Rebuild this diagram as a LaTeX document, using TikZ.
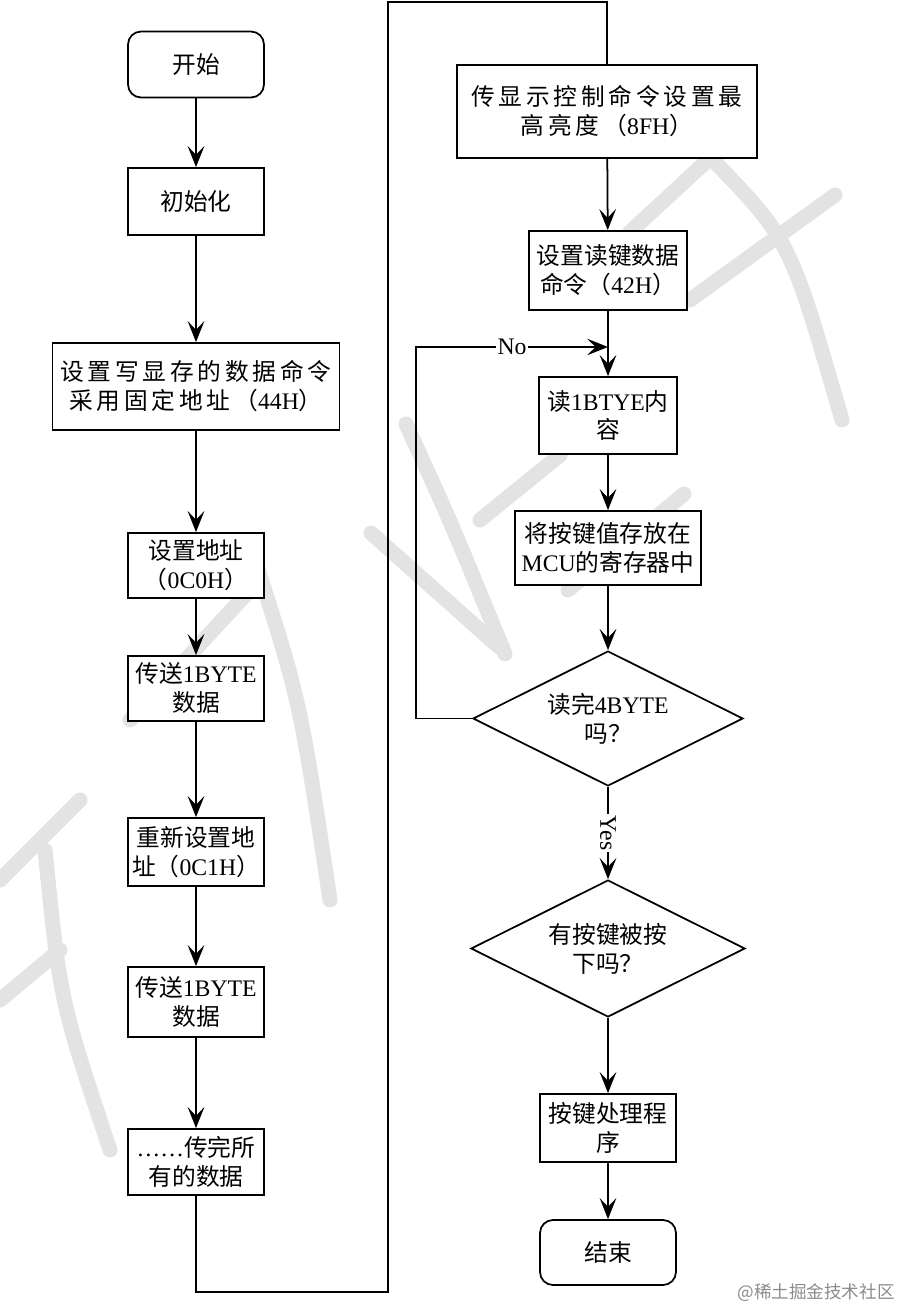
\documentclass[tikz,border=0pt]{standalone}
\usepackage{fontspec}
\setmainfont{Liberation Serif}
\newfontfamily\cjk{Noto Sans CJK SC}
\newfontfamily\cjkwide[LetterSpace=16]{Noto Sans CJK SC}
\newcommand\zh[1]{{\cjk #1}}
\newcommand\zhw[1]{{\cjkwide #1}}
\usetikzlibrary{positioning,arrows.meta,shapes.geometric}

\begin{document}
\begin{tikzpicture}[
  x=0.02cm, y=-0.02cm,
  font=\fontsize{13.5pt}{16.5pt}\selectfont,
  box/.style = {
    rectangle, draw=black, line width=1pt, fill=white, align=center,
    inner sep=1pt, minimum width=2.72cm, minimum height=1.32cm,
  },
  term/.style = {box, rounded corners=0.26cm},
  decide/.style = {
    diamond, draw=black, line width=1pt, fill=white, align=center,
    inner sep=0pt, shape aspect=2,
  },
  arrow/.style = {-{Stealth[length=12pt,width=9.5pt,inset=5pt]}, line width=1pt},
  link/.style = {line width=1pt},
  lbl/.style = {fill=white, inner sep=1pt},
  wmark/.style = {draw=black!11, line width=0.3cm, line cap=round},
]
  \fill[white] (0,0) rectangle (903,1311);
  \useasboundingbox (0,0) rectangle (903,1311);

  % watermark
  \draw[wmark] (713,160) .. controls (790,240) .. (842,420);
  \draw[wmark] (835,195) -- (690,300);
  \draw[wmark] (735,135) -- (630,232);
  \draw[wmark] (406,424) .. controls (450,520) .. (505,654);
  \draw[wmark] (371,533) -- (499,647);
  \draw[wmark] (480,520) -- (560,455);
  \draw[wmark] (568,590) -- (684,494);
  \draw[wmark] (130,720) -- (250,590);
  \draw[wmark] (255,560) .. controls (300,700) .. (330,900);
  \draw[wmark] (0,880) -- (80,800);
  \draw[wmark] (45,850) .. controls (60,1000) .. (110,1150);
  \draw[wmark] (0,1000) -- (60,950);

  % left column
  \node[term] (start) at (196,64.5) {\zh{开始}};
  \node[box, minimum height=1.34cm] (init) at (196,201.5) {\zh{初始化}};
  \node[box, minimum width=5.74cm, minimum height=1.74cm] (wcmd) at (196,386.5)
    {\zhw{设置写显存的数据命令}\\\zhw{采用固定地址（}44H\zhw{）}};
  \node[box, minimum height=1.30cm] (addr) at (196,565.5) {\zh{设置地址}\\\zh{（}0C0H\zh{）}};
  \node[box, minimum height=1.30cm] (send1) at (196,688.5) {\zh{传送}1BYTE\\\zh{数据}};
  \node[box, minimum height=1.36cm] (readdr) at (196,852) {\zh{重新设置地}\\\zh{址（}0C1H\zh{）}};
  \node[box, minimum height=1.40cm] (send2) at (196,1002) {\zh{传送}1BYTE\\\zh{数据}};
  \node[box] (sendall) at (196,1162) {……\zh{传完所}\\\zh{有的数据}};

  % right column
  \node[box, minimum width=6.00cm, minimum height=1.86cm] (disp) at (607,111.5)
    {\zhw{传显示控制命令设置最}\\\zhw{高亮度（}8FH\zhw{）}};
  \node[box, minimum width=3.16cm, minimum height=1.58cm] (keycmd) at (608,270.5)
    {\zh{设置读键数据}\\\zh{命令（}42H\zh{）}};
  \node[box, minimum width=2.76cm, minimum height=1.54cm] (readb) at (608,415.5)
    {\zh{读}1BTYE\zh{内}\\\zh{容}};
  \node[box, minimum width=3.72cm, minimum height=1.48cm] (store) at (608,548)
    {\zh{将按键值存放在}\\MCU\zh{的寄存器中}};
  \node[decide, minimum width=5.40cm, minimum height=2.70cm] (chk4) at (608,718.5)
    {\zh{读完}4BYTE\\\zh{吗？}};
  \node[decide, minimum width=5.48cm, minimum height=2.74cm] (chkkey) at (608,948.5)
    {\zh{有按键被按}\\\zh{下吗？}};
  \node[box, minimum height=1.36cm] (handle) at (608,1128) {\zh{按键处理程}\\\zh{序}};
  \node[term, minimum height=1.30cm] (stop) at (608,1252.5) {\zh{结束}};

  \coordinate (lowturn) at (388,1292);
  \coordinate (topturn) at (388,2);
  \coordinate (loopleft) at (416,347);
  \coordinate (merge) at (608,347);

  \draw[arrow] (start) -- (init);
  \draw[arrow] (init) -- (wcmd);
  \draw[arrow] (wcmd) -- (addr);
  \draw[arrow] (addr) -- (send1);
  \draw[arrow] (send1) -- (readdr);
  \draw[arrow] (readdr) -- (send2);
  \draw[arrow] (send2) -- (sendall);
  \draw[link] (sendall) |- (lowturn) -- (topturn) -| (disp);

  \draw[arrow] (disp) -- (keycmd);
  \draw[arrow] (keycmd) -- (readb);
  \draw[arrow] (readb) -- (store);
  \draw[arrow] (store) -- (chk4);
  \draw[arrow] (chk4.west) -| (loopleft) -- node[lbl] {No} (merge);
  \draw[arrow] (chk4) -- node[lbl, rotate=-90] {Yes} (chkkey);
  \draw[arrow] (chkkey) -- (handle);
  \draw[arrow] (handle) -- (stop);

  \node[text=black!45, font=\cjk\fontsize{10pt}{12pt}\selectfont] (credit) at (816,1293) {@稀土掘金技术社区};
\end{tikzpicture}
\end{document}
